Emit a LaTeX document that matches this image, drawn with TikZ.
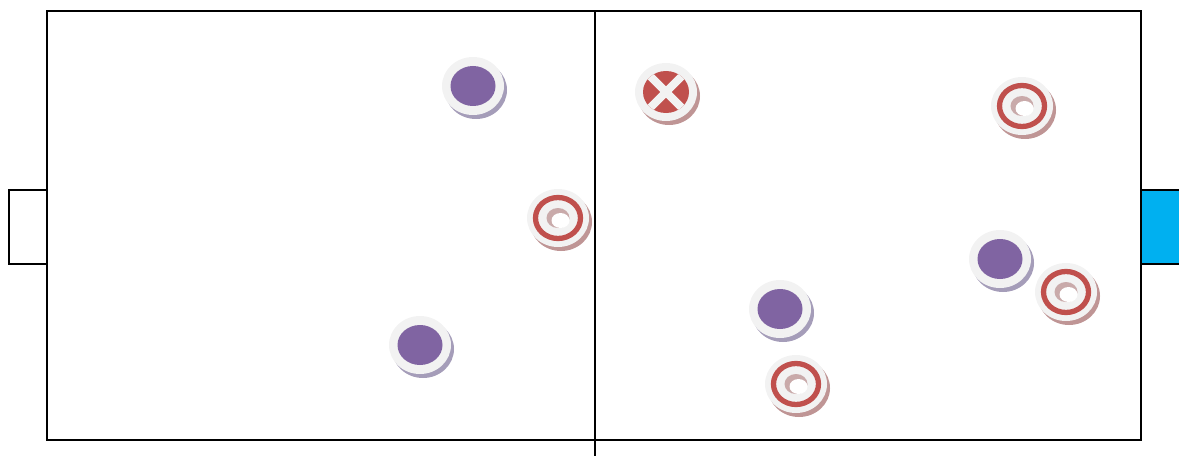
\documentclass[tikz,border=0pt]{standalone}
\usepackage{tikz}
\usetikzlibrary{calc}
\definecolor{puckwhite}{HTML}{F2F2F2}
\definecolor{teamviolet}{HTML}{8064A2}
\definecolor{teamred}{HTML}{C0504D}
\definecolor{violetshade}{HTML}{A59DB9}
\definecolor{redshade}{HTML}{BF9595}
\definecolor{holeshade}{HTML}{C9AAAA}
\definecolor{goalblue}{HTML}{00B0F0}

\begin{document}
\begin{tikzpicture}[
    x=0.02cm, y=-0.02cm,
    fieldline/.style={draw=black, line width=1.1pt},
    pics/puck base/.style={code={
        \fill[#1] (3,4) ellipse [x radius=31, y radius=29];
        \fill[puckwhite] (0,0) ellipse [x radius=31, y radius=29];
        \coordinate (-c) at (0,0);
    }},
    pics/violet puck/.style={code={
        \pic {puck base=violetshade};
        \fill[teamviolet] (0,0) ellipse [x radius=22.5, y radius=20];
    }},
    pics/target puck/.style={code={
        \pic {puck base=redshade};
        \draw[teamred, line width=3pt] (0,0) ellipse [x radius=22.5, y radius=20.5];
        \fill[holeshade] (0,0) ellipse [x radius=11.5, y radius=10];
        \fill[white] (2.5,2.5) ellipse [x radius=9, y radius=7.5];
    }},
    pics/cross puck/.style={code={
        \pic {puck base=redshade};
        \fill[teamred] (0,0) ellipse [x radius=23, y radius=21];
        \begin{scope}
            \clip (0,0) ellipse [x radius=23, y radius=21];
            \draw[puckwhite, line width=4.6pt] (-25,-25) -- (25,25) (-25,25) -- (25,-25);
        \end{scope}
    }}
]
\useasboundingbox (0,0) rectangle (1179,456);

% field and goals
\draw[fieldline, fill=white] (47,190) -- (9,190) -- (9,264) -- (47,264);
\draw[fieldline, fill=goalblue] (1141,190) rectangle (1180,264);
\draw[fieldline] (47,11) rectangle (1141,440);
\draw[fieldline] (595,11) -- (595,460);

% violet team
\pic (v1) at (473,86) {violet puck};
\pic (v2) at (420,345) {violet puck};
\pic (v3) at (780,309) {violet puck};
\pic (v4) at (1000,259) {violet puck};

% red team
\pic (r1) at (558,218) {target puck};
\pic (r2) at (1022,106) {target puck};
\pic (r3) at (1066,292) {target puck};
\pic (r4) at (796,384) {target puck};
\pic (x1) at (666,92) {cross puck};
\end{tikzpicture}
\end{document}
